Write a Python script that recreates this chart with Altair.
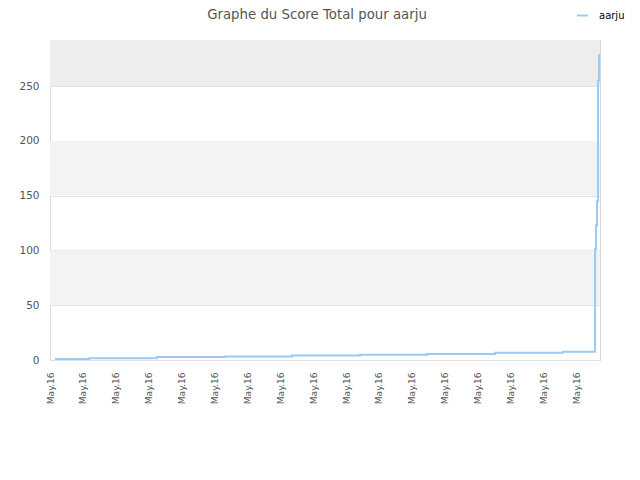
import altair as alt
import pandas as pd

# --- data ---
x_pos = [0.15, 1.19, 3.25, 5.32, 7.36, 9.42, 11.46, 13.53, 15.59, 16.57, 16.60, 16.63, 16.66, 16.69, 16.72]
scores = [1, 1.7, 2.7, 3.3, 4, 4.8, 5.5, 6.6, 7.5, 101, 123, 145, 255, 278, 278]
player = "aarju"
tick_vals = list(range(17))
tick_label = "May.16"
y_ticks = [0, 50, 100, 150, 200, 250]
band_lo = [50, 150, 250]
band_hi = [100, 200, 292]
band_fill = ["#f3f3f3", "#f3f3f3", "#ededed"]

FONT = "DejaVu Sans"

line_df = pd.DataFrame({"x": x_pos, "score": scores, "player": [player] * len(x_pos)})
band_df = pd.DataFrame({"lo": band_lo, "hi": band_hi, "fill": band_fill})

xscale = alt.Scale(domain=[0, 16.72], nice=False, zero=False)
yscale = alt.Scale(domain=[0, 292], nice=False)

bands = alt.Chart(band_df).mark_rect().encode(
    x=alt.value(0),
    x2=alt.value(550),
    y=alt.Y("lo:Q", scale=yscale),
    y2="hi:Q",
    fill=alt.Fill("fill:N", scale=None),
)

line = alt.Chart(line_df).mark_line(interpolate="step-after", strokeWidth=2).encode(
    x=alt.X(
        "x:Q",
        scale=xscale,
        title=None,
        axis=alt.Axis(
            values=tick_vals,
            labelExpr=f"'{tick_label}'",
            labelAngle=-90,
            labelFontSize=9,
            labelColor="#555555",
            labelFont=FONT,
            labelPadding=12,
            ticks=False,
            grid=False,
            domain=False,
            labelOverlap=False,
        ),
    ),
    y=alt.Y(
        "score:Q",
        scale=yscale,
        title=None,
        axis=alt.Axis(
            values=y_ticks,
            labelFontSize=10.5,
            labelColor="#555555",
            labelFont=FONT,
            labelPadding=11,
            ticks=False,
            grid=True,
            gridColor="#e2e2e2",
            domain=False,
        ),
    ),
    color=alt.Color(
        "player:N",
        scale=alt.Scale(domain=[player], range=["#9ccaf5"]),
        legend=alt.Legend(
            title=None,
            orient="none",
            legendX=526,
            legendY=-31,
            symbolType="stroke",
            symbolSize=121,
            symbolStrokeWidth=2,
            labelFont=FONT,
            labelFontSize=10,
            labelColor="#000000",
            labelOffset=10,
        ),
    ),
)

chart = alt.layer(bands, line).properties(
    width=550,
    height=320,
    autosize="none",
    padding={"left": 42, "top": 32, "right": 32, "bottom": 112},
    title=alt.Title(
        "Graphe du Score Total pour aarju",
        font=FONT,
        fontSize=13.3,
        fontWeight="normal",
        color="#555555",
        anchor="middle",
        offset=22,
        dy=34,
        dx=-8,
    ),
).configure_view(stroke="#d9d9d9", strokeWidth=1)

chart.save("out.html", embed_options={"renderer": "svg", "actions": False})
